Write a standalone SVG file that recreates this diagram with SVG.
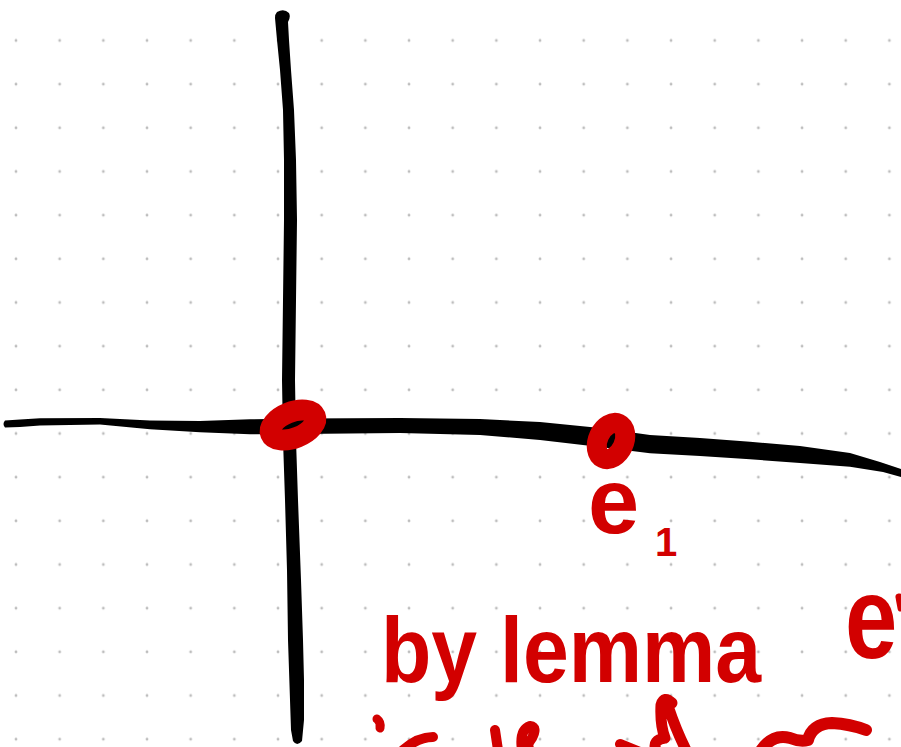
<svg xmlns="http://www.w3.org/2000/svg" width="901" height="747" viewBox="0 0 901 747">
  <style>
    .ink { fill: #000000; }
    .red-ring { fill: none; stroke: #d20000; }
    .red-stroke { fill: none; stroke: #d20000; stroke-linecap: round; stroke-linejoin: round; }
    .hand { fill: #d20000; font-family: "Liberation Sans", "DejaVu Sans", sans-serif; font-weight: bold; }
  </style>
  <defs>
    <pattern id="dots" patternUnits="userSpaceOnUse" x="-5.835" y="18.665" width="43.67" height="43.67">
      <circle cx="21.835" cy="21.835" r="1.4" fill="#bdbdbd"/>
    </pattern>
  </defs>

  <rect width="901" height="747" fill="#ffffff"/>
  <rect id="dot-grid" width="901" height="747" fill="url(#dots)"/>

  <g id="axes">
    <path id="y-axis" class="ink" d="M277,12 Q275,14 275,18 L277,40 L280,70 L283,110 L284,160 L284,220 L283,300 L282,380 L283,440 L285,500 L287,570 L288,640 L290,700 L291,730 L293,741 Q297,747 302,741 L304,720 L304,680 L303,640 L301,580 L298,500 L296,440 L295,380 L296,300 L297,220 L296,160 L294,110 L291,70 L289,40 L288,22 Q291,17 289,13 Q284,8 277,12 Z"/>
    <path id="x-axis" class="ink" d="M5,420.5 L20,419.5 L40,418.3 L100,418 L150,420.5 L200,421 L250,419.3 L300,418.5 L400,418 L480,419 L540,422 L600,428 L650,435 L700,438 L750,441.7 L800,446 L850,453 L880,462 L901,469 L901,477 L883,472 L850,466.7 L800,463 L750,459.3 L700,456 L650,453.3 L600,447 L540,440 L480,435 L400,433 L300,434 L250,434.3 L200,432.3 L150,429.3 L100,424.5 L40,425.5 L20,427 L5,427.5 Q2,424 5,420.5 Z"/>
  </g>

  <g id="points">
    <g id="origin-point">
      <ellipse class="red-ring" cx="293" cy="425" rx="24" ry="13" stroke-width="21" transform="rotate(-22 293 425)"/>
    </g>
    <g id="e1-point">
      <ellipse class="red-ring" cx="611" cy="441" rx="19" ry="13" stroke-width="20" transform="rotate(-65 611 441)"/>
    </g>
  </g>

  <g id="labels">
    <text id="label-e1" class="hand" x="588" y="533" font-size="92">e<tspan x="655" y="556" font-size="40">1</tspan></text>
    <text id="label-by-lemma" class="hand" x="381" y="682" font-size="92" textLength="380" lengthAdjust="spacingAndGlyphs">by lemma</text>
    <text id="label-e-right" class="hand" x="0" y="0" font-size="94" transform="translate(845 658) scale(1 1.25)">e</text>
    <path class="red-stroke" stroke-width="7" d="M899,597 L901,608"/>
  </g>

  <g id="cut-off-strokes">
    <path class="red-stroke" stroke-width="9" d="M377,719 Q381,722 380,728"/>
    <path class="red-stroke" stroke-width="10" d="M403,750 Q418,737 433,737"/>
    <path class="red-stroke" stroke-width="10" d="M495,730 L498,750"/>
    <path class="red-stroke" stroke-width="10" d="M522,750 Q519,730 530,726 Q538,727 532,738 Q526,746 530,750"/>
    <path class="red-stroke" stroke-width="10" d="M620,744 L640,752"/>
    <path class="red-stroke" stroke-width="11" d="M672,703 Q664,695 661,705 Q660,725 665,738 Q652,740 656,750 M668,706 Q676,730 686,750"/>
    <path class="red-stroke" stroke-width="12" d="M760,752 Q772,733 790,738 Q800,742 808,740 Q812,724 832,723 Q850,724 866,730"/>
  </g>
</svg>
